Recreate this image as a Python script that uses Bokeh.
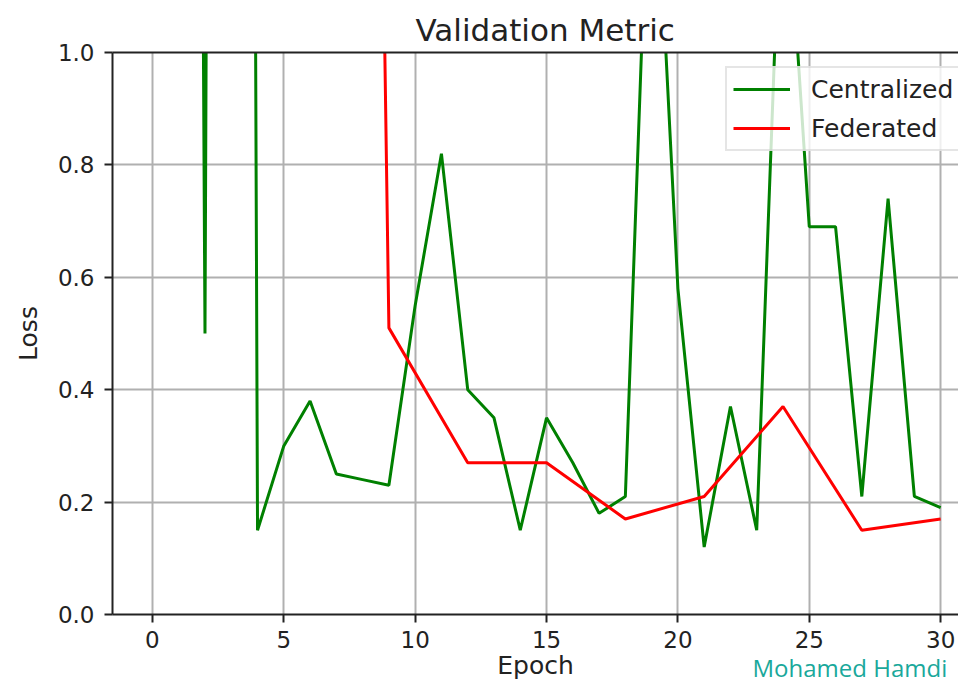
from bokeh.plotting import figure
from bokeh.models import Range1d, FixedTicker, LinearAxis, Title, NumeralTickFormatter
from bokeh.embed import file_html
from bokeh.resources import INLINE

# ---- data ----
epochs_central = list(range(0, 31))
loss_central = [20.0, 9.0, 0.50, 12.0, 0.15, 0.30, 0.38, 0.25, 0.24, 0.23,
                0.55, 0.82, 0.40, 0.35, 0.15, 0.35, 0.27, 0.18, 0.21, 1.50,
                0.58, 0.12, 0.37, 0.15, 1.40, 0.69, 0.69, 0.21, 0.74, 0.21, 0.19]
epochs_federated = list(range(0, 31, 3))
loss_federated = [25.0, 16.0, 10.0, 0.51, 0.27, 0.27, 0.17, 0.21, 0.37, 0.15, 0.17]
x_ticks = [0, 5, 10, 15, 20, 25, 30]
y_ticks = [0.0, 0.2, 0.4, 0.6, 0.8, 1.0]
series_names = ["Centralized", "Federated"]
title_text = "Validation Metric"
x_label = "Epoch"
y_label = "Loss"
watermark = "Mohamed Hamdi"

FONT = "DejaVu Sans"
DARK = "#222222"

p = figure(width=958, height=682, output_backend="svg", toolbar_location=None,
           x_range=Range1d(-1.52, 30.68), y_range=Range1d(0.0, 1.0),
           min_border_left=112, min_border_right=0, min_border_top=52,
           min_border_bottom=67, title=title_text)
p.outline_line_color = None
p.background_fill_color = "white"
p.border_fill_color = "white"

p.title.text_font = FONT
p.title.text_font_size = "31px"
p.title.text_font_style = "normal"
p.title.text_color = DARK
p.title.align = "left"
p.title.offset = 303
p.title.standoff = 10

p.line(epochs_central, loss_central, line_color="#008000", line_width=3,
       legend_label=series_names[0])
p.line(epochs_federated, loss_federated, line_color="#ff0000", line_width=3,
       legend_label=series_names[1])

p.xaxis.ticker = FixedTicker(ticks=x_ticks)
p.yaxis.ticker = FixedTicker(ticks=y_ticks)
p.yaxis.formatter = NumeralTickFormatter(format="0.0")
p.xaxis.axis_label = x_label
p.yaxis.axis_label = y_label

for ax in (p.xaxis[0], p.yaxis[0]):
    ax.axis_line_width = 2
    ax.axis_line_color = DARK
    ax.major_tick_line_width = 2
    ax.major_tick_line_color = DARK
    ax.major_tick_out = 8
    ax.major_tick_in = 0
    ax.minor_tick_out = 0
    ax.minor_tick_in = 0
    ax.major_label_text_font = FONT
    ax.major_label_text_font_size = "23px"
    ax.major_label_text_color = DARK
    ax.axis_label_text_font = FONT
    ax.axis_label_text_font_size = "25px"
    ax.axis_label_text_font_style = "normal"
    ax.axis_label_text_color = DARK

p.xaxis.major_label_standoff = 8
p.xaxis.axis_label_standoff = 0
p.yaxis.major_label_standoff = 10
p.yaxis.axis_label_standoff = 12

top = LinearAxis(ticker=FixedTicker(ticks=[]), axis_line_width=2,
                 axis_line_color=DARK, major_label_text_font_size="0px",
                 major_tick_out=0, minor_tick_out=0, major_label_standoff=0)
p.add_layout(top, "above")

p.grid.grid_line_color = "#b0b0b0"
p.grid.grid_line_width = 2

lg = p.legend[0]
lg.location = (613, 463)
lg.label_text_font = FONT
lg.label_text_font_size = "25px"
lg.label_text_color = DARK
lg.glyph_width = 57
lg.glyph_height = 30
lg.label_height = 30
lg.label_standoff = 21
lg.spacing = 9
lg.padding = 6
lg.margin = 0
lg.border_line_color = "#cccccc"
lg.border_line_width = 2
lg.background_fill_alpha = 0.8

wm = Title(text=watermark, align="left", offset=640, vertical_align="top",
           standoff=-64, text_color="#1aa89b", text_font="Open Sans",
           text_font_size="24px", text_font_style="normal")
p.add_layout(wm, "below")

open("out.html", "w").write(file_html(p, INLINE))
